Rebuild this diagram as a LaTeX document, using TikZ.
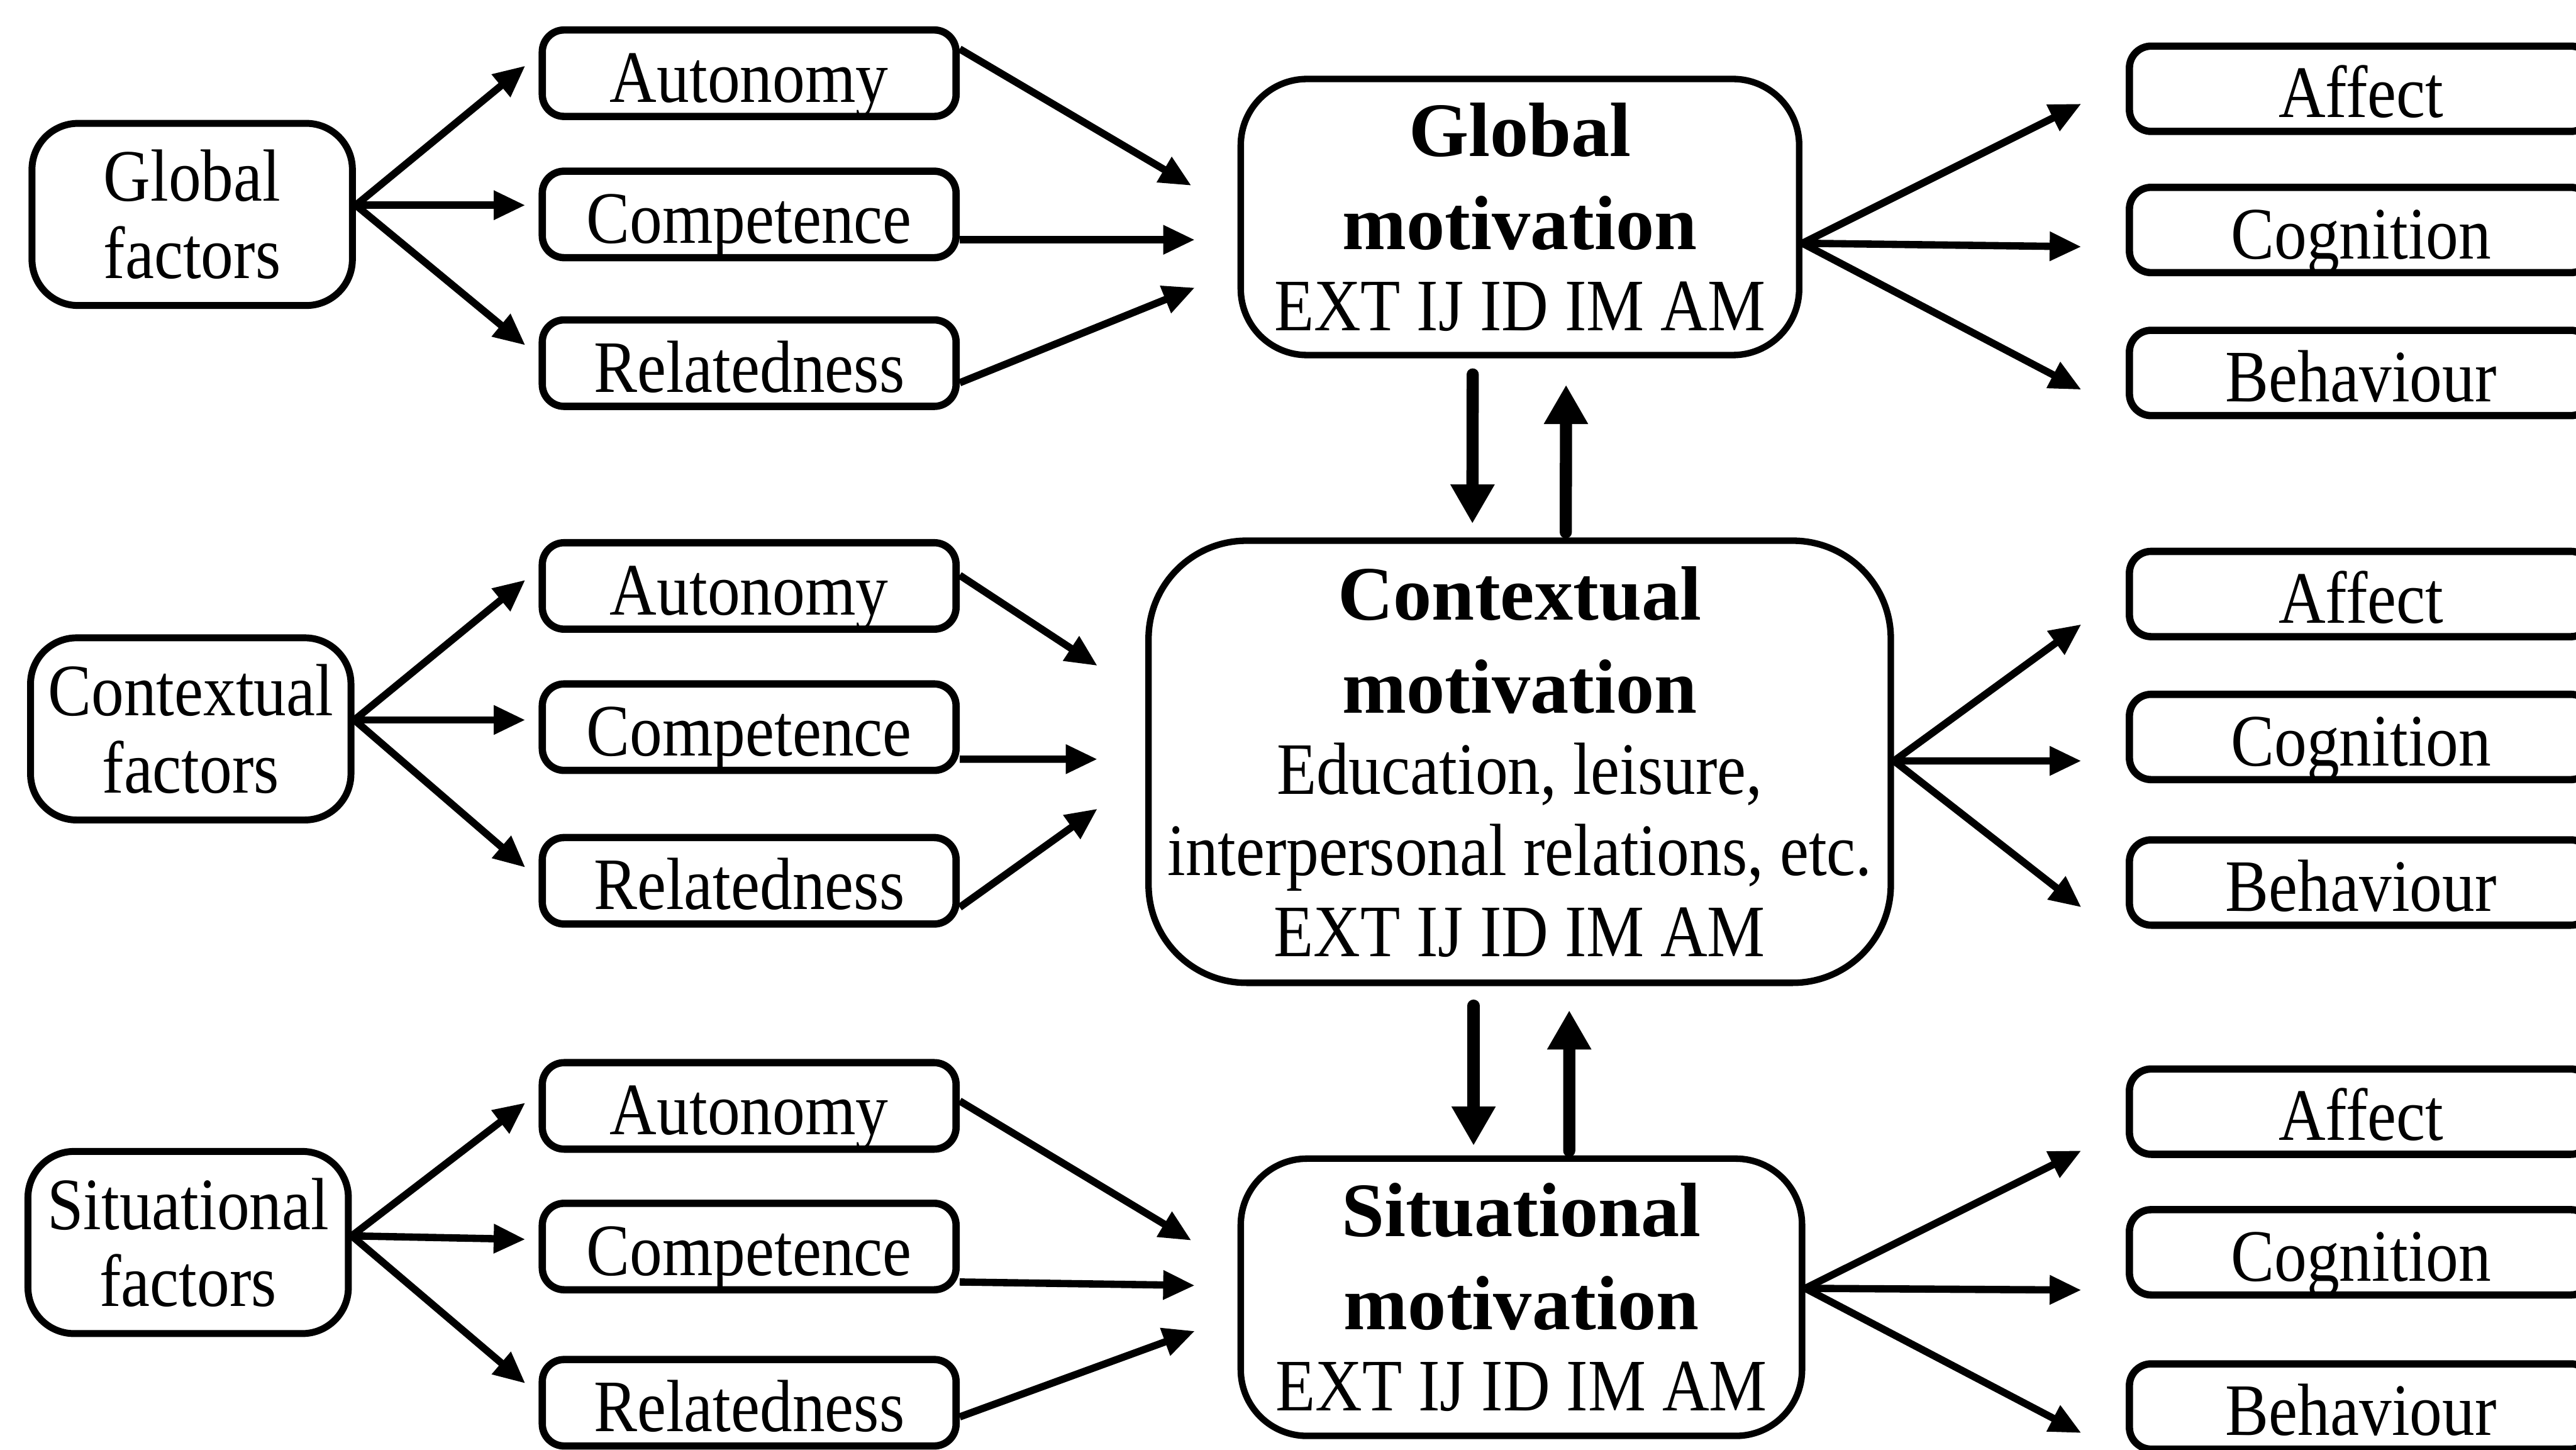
\documentclass[tikz,border=0pt]{standalone}
\usepackage{fontspec}
\setmainfont{Liberation Serif}
\newfontfamily\narrowserif{Liberation Serif}[FakeStretch=0.88]
\usetikzlibrary{arrows.meta, calc}

\newcommand{\boxfont}{\fontsize{36.5}{40}\narrowserif}
\newcommand{\mtitle}{\rmfamily\bfseries\fontsize{38}{45}\selectfont}

\tikzset{
  factorbox/.style={draw, line width=3.4pt, rounded corners=0.8cm, align=center,
    minimum width=5.56cm, minimum height=3.16cm, font=\fontsize{36.5}{38}\narrowserif},
  needbox/.style={draw, line width=3.6pt, rounded corners=0.38cm,
    minimum width=7.18cm, minimum height=1.5cm, text height=1cm, text depth=0pt,
    font=\boxfont},
  motivbox/.style={draw, line width=3.2pt, align=center, inner sep=2pt, font=\boxfont},
  outbox/.style={draw, line width=3.6pt, rounded corners=0.38cm,
    minimum width=8.04cm, minimum height=1.48cm, text height=1cm, text depth=0pt,
    font=\boxfont},
  arr/.style={-{Triangle[length=0.55cm, width=0.48cm]}, line width=3.6pt},
  bigarr/.style={-{Triangle[length=0.68cm, width=0.72cm]}, line width=6pt, line cap=round}
}

\begin{document}
\begin{tikzpicture}

% Frame
\useasboundingbox (0,0) rectangle (44.70,-25.15);
\clip (0,0) rectangle (44.70,-25.15);

% Factors
\node[factorbox] (gfac) at (3.335,-3.72) {Global\\factors};
\node[factorbox] (cfac) at (3.31,-12.645) {Contextual\\factors};
\node[factorbox] (sfac) at (3.265,-21.555) {Situational\\factors};

% Needs
\node[needbox] (gaut) at (13.00,-1.27) {Autonomy};
\node[needbox] (gcom) at (13.00,-3.72) {Competence};
\node[needbox] (grel) at (13.00,-6.30) {Relatedness};
\node[needbox] (caut) at (13.00,-10.165) {Autonomy};
\node[needbox] (ccom) at (13.00,-12.615) {Competence};
\node[needbox] (crel) at (13.00,-15.28) {Relatedness};
\node[needbox] (saut) at (13.00,-19.185) {Autonomy};
\node[needbox] (scom) at (13.00,-21.625) {Competence};
\node[needbox] (srel) at (13.00,-24.335) {Relatedness};

% Motivation levels
\node[motivbox, rounded corners=1.15cm, minimum width=9.69cm, minimum height=4.79cm]
  (gmot) at (26.375,-3.765) {{\mtitle Global}\\[6pt]{\mtitle motivation}\\EXT IJ ID IM AM};
\node[motivbox, rounded corners=1.7cm, minimum width=12.88cm, minimum height=7.67cm]
  (cmot) at (26.37,-13.215) {{\mtitle Contextual}\\[6pt]{\mtitle motivation}\\Education, leisure,\\interpersonal relations, etc.\\EXT IJ ID IM AM};
\node[motivbox, rounded corners=1.15cm, minimum width=9.74cm, minimum height=4.81cm]
  (smot) at (26.40,-22.505) {{\mtitle Situational}\\[6pt]{\mtitle motivation}\\EXT IJ ID IM AM};

% Consequences
\node[outbox] (gaff) at (40.97,-1.54) {Affect};
\node[outbox] (gcog) at (40.97,-3.99) {Cognition};
\node[outbox] (gbeh) at (40.97,-6.47) {Behaviour};
\node[outbox] (caff) at (40.97,-10.305) {Affect};
\node[outbox] (ccog) at (40.97,-12.785) {Cognition};
\node[outbox] (cbeh) at (40.97,-15.31) {Behaviour};
\node[outbox] (saff) at (40.97,-19.285) {Affect};
\node[outbox] (scog) at (40.97,-21.725) {Cognition};
\node[outbox] (sbeh) at (40.97,-24.40) {Behaviour};

% Factors -> needs
\draw[arr] ($(gfac.east)+(0,0.16)$) -- ($(gaut.west)+(-0.23,0.13)$);
\draw[arr] ($(gfac.east)+(0,0.16)$) -- ($(gcom.west)+(-0.23,0.16)$);
\draw[arr] ($(gfac.east)+(0,0.16)$) -- ($(grel.west)+(-0.23,0.31)$);
\draw[arr] ($(cfac.east)+(0,0.155)$) -- ($(caut.west)+(-0.23,0.105)$);
\draw[arr] ($(cfac.east)+(0,0.155)$) -- ($(ccom.west)+(-0.23,0.125)$);
\draw[arr] ($(cfac.east)+(0,0.155)$) -- ($(crel.west)+(-0.23,0.23)$);
\draw[arr] ($(sfac.east)+(0,0.115)$) -- ($(saut.west)+(-0.23,0.055)$);
\draw[arr] ($(sfac.east)+(0,0.115)$) -- ($(scom.west)+(-0.23,0.125)$);
\draw[arr] ($(sfac.east)+(0,0.115)$) -- ($(srel.west)+(-0.23,0.335)$);

% Needs -> motivation
\draw[arr] ($(gaut.east)+(0,0.42)$) -- ($(gmot.west)+(-0.80,0.545)$);
\draw[arr] ($(gcom.east)+(0,-0.44)$) -- ($(gmot.west)+(-0.74,-0.395)$);
\draw[arr] ($(grel.east)+(0,-0.34)$) -- ($(gmot.west)+(-0.74,-1.225)$);
\draw[arr] ($(caut.east)+(0,0.185)$) -- ($(cmot.west)+(-0.83,1.665)$);
\draw[arr] ($(ccom.east)+(0,-0.555)$) -- ($(cmot.west)+(-0.83,0.045)$);
\draw[arr] ($(crel.east)+(0,-0.46)$) -- ($(cmot.west)+(-0.83,-0.815)$);
\draw[arr] ($(saut.east)+(0,0.085)$) -- ($(smot.west)+(-0.80,0.985)$);
\draw[arr] ($(scom.east)+(0,-0.615)$) -- ($(smot.west)+(-0.74,0.205)$);
\draw[arr] ($(srel.east)+(0,-0.245)$) -- ($(smot.west)+(-0.74,-0.585)$);

% Motivation -> consequences
\draw[arr] ($(gmot.east)+(0,-0.455)$) -- ($(gaff.west)+(-0.77,-0.26)$);
\draw[arr] ($(gmot.east)+(0,-0.455)$) -- ($(gcog.west)+(-0.77,-0.29)$);
\draw[arr] ($(gmot.east)+(0,-0.455)$) -- ($(gbeh.west)+(-0.77,-0.29)$);
\draw[arr] ($(cmot.east)+(0,0.015)$) -- ($(caff.west)+(-0.77,-0.525)$);
\draw[arr] ($(cmot.east)+(0,0.015)$) -- ($(ccog.west)+(-0.77,-0.415)$);
\draw[arr] ($(cmot.east)+(0,0.015)$) -- ($(cbeh.west)+(-0.77,-0.43)$);
\draw[arr] ($(smot.east)+(0,0.155)$) -- ($(saff.west)+(-0.77,-0.675)$);
\draw[arr] ($(smot.east)+(0,0.155)$) -- ($(scog.west)+(-0.77,-0.655)$);
\draw[arr] ($(smot.east)+(0,0.155)$) -- ($(sbeh.west)+(-0.77,-0.46)$);

% Between levels
\draw[bigarr] ($(gmot.south)+(-0.82,-0.28)$) -- ($(cmot.north)+(-0.82,0.24)$);
\draw[bigarr] ($(cmot.north)+(0.80,0.09)$) -- ($(gmot.south)+(0.80,-0.46)$);
\draw[bigarr] ($(cmot.south)+(-0.80,-0.34)$) -- ($(smot.north)+(-0.83,0.17)$);
\draw[bigarr] ($(smot.north)+(0.83,0.08)$) -- ($(cmot.south)+(0.86,-0.42)$);

\end{tikzpicture}
\end{document}
